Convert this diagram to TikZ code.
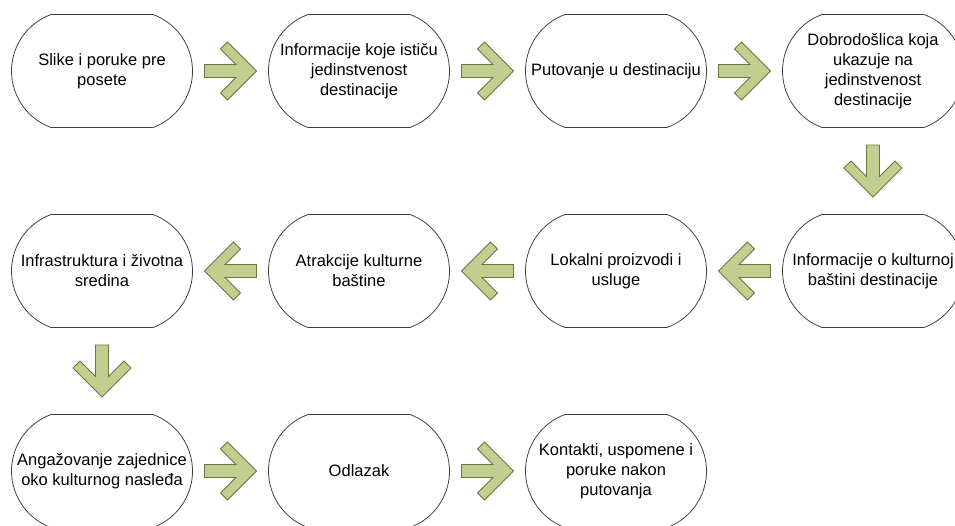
\documentclass[tikz,border=0pt]{standalone}
\usepackage{fontspec}
\setmainfont{Liberation Sans}
\usepackage{xcolor}
\usetikzlibrary{shapes.misc,positioning,calc}

\definecolor{arrowfill}{RGB}{194,206,144}
\definecolor{arrowline}{RGB}{104,120,60}

\tikzset{
  stage/.style={rounded rectangle, rounded rectangle arc length=140, draw=black!75, line width=0.8pt,
    minimum width=183pt, minimum height=113pt, align=center, inner sep=1pt,
    font=\fontsize{16.5}{20}\selectfont},
  pics/blockarrow/.style={code={
    \draw[draw=arrowline, fill=arrowfill, line width=0.8pt, line join=miter]
      (26,0) -- (-3,-29) -- (-10,-22) -- (5.5,-6.5) -- (-26,-6.5) -- (-26,6.5)
      -- (5.5,6.5) -- (-10,22) -- (-3,29) -- cycle;
  }}
}

\begin{document}
\begin{tikzpicture}[x=1pt,y=-1pt,node distance=200pt and 257pt,on grid]
   \useasboundingbox (0,0) rectangle (955,525);
   % first row
   \node[stage] (n1) at (102,71) {Slike i poruke pre\\posete};
   \node[stage] (n2) [right=of n1] {Informacije koje ističu\\jedinstvenost\\destinacije};
   \node[stage] (n3) [right=of n2] {Putovanje u destinaciju};
   \node[stage] (n4) [right=of n3] {Dobrodošlica koja\\ukazuje na\\jedinstvenost\\destinacije};
   % second row
   \node[stage] (n5) [below=of n4] {Informacije o kulturnoj\\baštini destinacije};
   \node[stage] (n6) [left=of n5] {Lokalni proizvodi i\\usluge};
   \node[stage] (n7) [left=of n6] {Atrakcije kulturne\\baštine};
   \node[stage] (n8) [left=of n7] {Infrastruktura i životna\\sredina};
   % third row
   \node[stage] (n9) [below=of n8] {Angažovanje zajednice\\oko kulturnog nasleđa};
   \node[stage] (n10) [right=of n9] {Odlazak};
   \node[stage] (n11) [right=of n10] {Kontakti, uspomene i\\poruke nakon\\putovanja};

   \pic at ($(n1)!0.5!(n2)$) {blockarrow};
   \pic at ($(n2)!0.5!(n3)$) {blockarrow};
   \pic at ($(n3)!0.5!(n4)$) {blockarrow};
   \pic[rotate=-90] at ($(n4)!0.5!(n5)$) {blockarrow};
   \pic[rotate=180] at ($(n5)!0.5!(n6)$) {blockarrow};
   \pic[rotate=180] at ($(n6)!0.5!(n7)$) {blockarrow};
   \pic[rotate=180] at ($(n7)!0.5!(n8)$) {blockarrow};
   \pic[rotate=-90] at ($(n8)!0.5!(n9)$) {blockarrow};
   \pic at ($(n9)!0.5!(n10)$) {blockarrow};
   \pic at ($(n10)!0.5!(n11)$) {blockarrow};
\end{tikzpicture}
\end{document}
